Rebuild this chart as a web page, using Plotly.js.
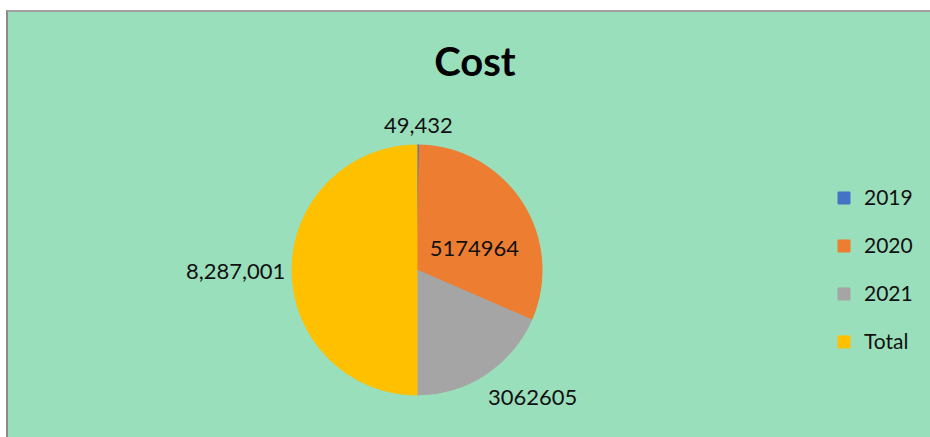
<!DOCTYPE html>
<html>
<head>
<meta charset="utf-8">
<script src="https://cdn.plot.ly/plotly-3.0.1.min.js"></script>
<style>
  html, body { margin: 0; padding: 0; background: #ffffff; }
  #frame { position: absolute; left: 6px; top: 10px; width: 930px; height: 440px;
           background: #9ADFBB; border-left: 2px solid #8a8a8a; border-top: 2px solid #a0a0a0; }
  #chart { position: absolute; left: 0; top: 0; width: 930px; height: 437px; }
</style>
</head>
<body>
<div id="frame"></div>
<div id="chart"></div>
<script>
// Data
var categories = ['2019', '2020', '2021', 'Total'];
var costValues = [49432, 5174964, 3062605, 8287001];
var dataLabels = ['49,432', '5174964', '3062605', '8,287,001'];
var sliceColors = ['#4472C4', '#ED7D31', '#A5A5A5', '#FFC000'];

var W = 930, H = 437;
var cx = 417, cy = 270, r = 125;
var labelFont = { family: 'Lato, sans-serif', size: 22, color: '#111111' };

// mid angle (clockwise from 12 o'clock) of each slice, from the data
var total = costValues.reduce(function (a, b) { return a + b; }, 0);
var midAngles = [];
var cum = 0;
costValues.forEach(function (v) { midAngles.push(2 * Math.PI * (cum + v / 2) / total); cum += v; });

// which labels are drawn by the pie itself vs. placed as annotations outside the slice
var pieText = dataLabels.map(function (t, i) {
  if (i === 1) return '\u00a0<br>' + t;  // inside label, nudged down half a line
  if (i === 3) return t;                 // outside label handled by the pie
  return '';
});

var trace = {
  type: 'pie',
  labels: categories.map(function (c) { return '<span style="font-size:21px;baseline-shift:6px">' + c + '</span>'; }),
  values: costValues,
  text: pieText,
  textinfo: 'text',
  textposition: ['none', 'inside', 'none', 'outside'],
  insidetextorientation: 'horizontal',
  textfont: labelFont,
  insidetextfont: labelFont,
  outsidetextfont: labelFont,
  sort: false,
  direction: 'clockwise',
  rotation: 0,
  marker: { colors: sliceColors, line: { color: sliceColors, width: 1 } },
  domain: { x: [(cx - r) / W, (cx + r) / W], y: [1 - (cy + r) / H, 1 - (cy - r) / H] },
  hoverinfo: 'none'
};

function outsidePoint(i, gap) {
  var a = midAngles[i];
  return { x: (cx + (r + gap) * Math.sin(a)) / W, y: 1 - (cy - (r + gap) * Math.cos(a)) / H };
}
var p0 = outsidePoint(0, 5);
var p2 = outsidePoint(2, 8);

var annotations = [
  { xref: 'paper', yref: 'paper', x: p0.x, y: p0.y, xanchor: 'center', yanchor: 'bottom',
    text: dataLabels[0], showarrow: false, font: labelFont },
  { xref: 'paper', yref: 'paper', x: p2.x - 4 / W, y: p2.y, xanchor: 'left', yanchor: 'top',
    text: dataLabels[2], showarrow: false, font: labelFont }
];

var layout = {
  width: W, height: H,
  margin: { l: 0, r: 0, t: 0, b: 0 },
  paper_bgcolor: 'rgba(0,0,0,0)',
  plot_bgcolor: 'rgba(0,0,0,0)',
  title: { text: '<b>Cost</b>', font: { family: 'Lato, sans-serif', size: 40, color: '#000000' },
           x: 475 / W, xanchor: 'center', y: 1 - 62 / H, yanchor: 'middle' },
  showlegend: true,
  legend: {
    x: 824 / W, xanchor: 'left', y: 1 - 169 / H, yanchor: 'top',
    font: { family: 'Lato, sans-serif', size: 34.6, color: '#111111' },
    bgcolor: 'rgba(0,0,0,0)', borderwidth: 0
  },
  annotations: annotations
};

Plotly.newPlot('chart', [trace], layout, { staticPlot: true, displayModeBar: false });
</script>
</body>
</html>
